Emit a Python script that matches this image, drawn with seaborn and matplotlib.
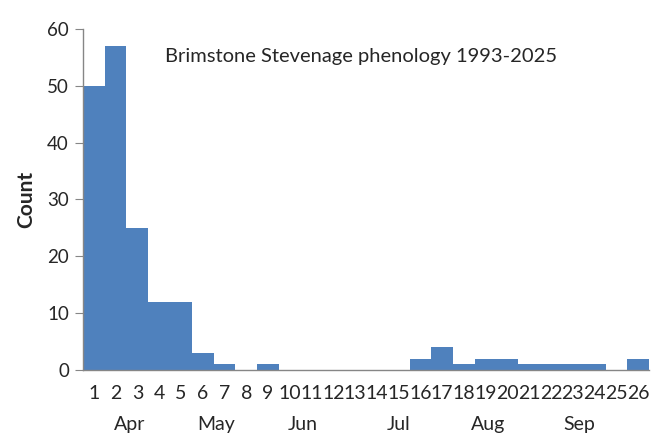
import pandas as pd
import seaborn as sns
import matplotlib.pyplot as plt
from matplotlib.transforms import blended_transform_factory

weeks = list(range(1, 27))
counts = [50, 57, 25, 12, 12, 3, 1, 0, 1, 0, 0, 0, 0, 0, 0,
          2, 4, 1, 2, 2, 1, 1, 1, 1, 0, 2]
months = ["Apr", "May", "Jun", "Jul", "Aug", "Sep"]
month_pos = [2.65, 6.6, 10.6, 15.0, 19.1, 23.3]

df = pd.DataFrame({"week": weeks, "count": counts})

sns.set_style("white")
plt.rcParams['font.family'] = ['Lato', 'DejaVu Sans']

fig = plt.figure(figsize=(6.63, 4.44), dpi=100)
ax = fig.add_axes([0.125, 0.1667, 0.854, 0.768])

sns.barplot(data=df, x="week", y="count", native_scale=True, width=1.0,
            color="#4F81BD", saturation=1, linewidth=0, ax=ax)

ax.set_xlim(0.5, 26.5)
ax.set_ylim(0, 60)
ax.set_yticks(range(0, 61, 10))
ax.set_xticks(weeks)
ax.set_xticklabels([str(w) for w in weeks])

for s in ["top", "right"]:
    ax.spines[s].set_visible(False)
for s in ["left", "bottom"]:
    ax.spines[s].set_color("#868686")
    ax.spines[s].set_linewidth(1)

ax.tick_params(axis="y", length=6, color="#868686", labelsize=13.5, pad=4, direction="out", left=True)
ax.tick_params(axis="x", length=0, labelsize=14, pad=11)

ax.set_xlabel("")
ax.set_ylabel("Count", fontsize=15, fontweight="bold", labelpad=8)

trans = blended_transform_factory(ax.transData, ax.transAxes)
for name, pos in zip(months, month_pos):
    ax.text(pos, -0.161, name, transform=trans, ha="center", va="center", fontsize=14)

ax.text(0.145, 0.918, "Brimstone Stevenage phenology 1993-2025", transform=ax.transAxes,
        ha="left", va="center", fontsize=14.5)

fig.savefig("out.png", dpi=100)
